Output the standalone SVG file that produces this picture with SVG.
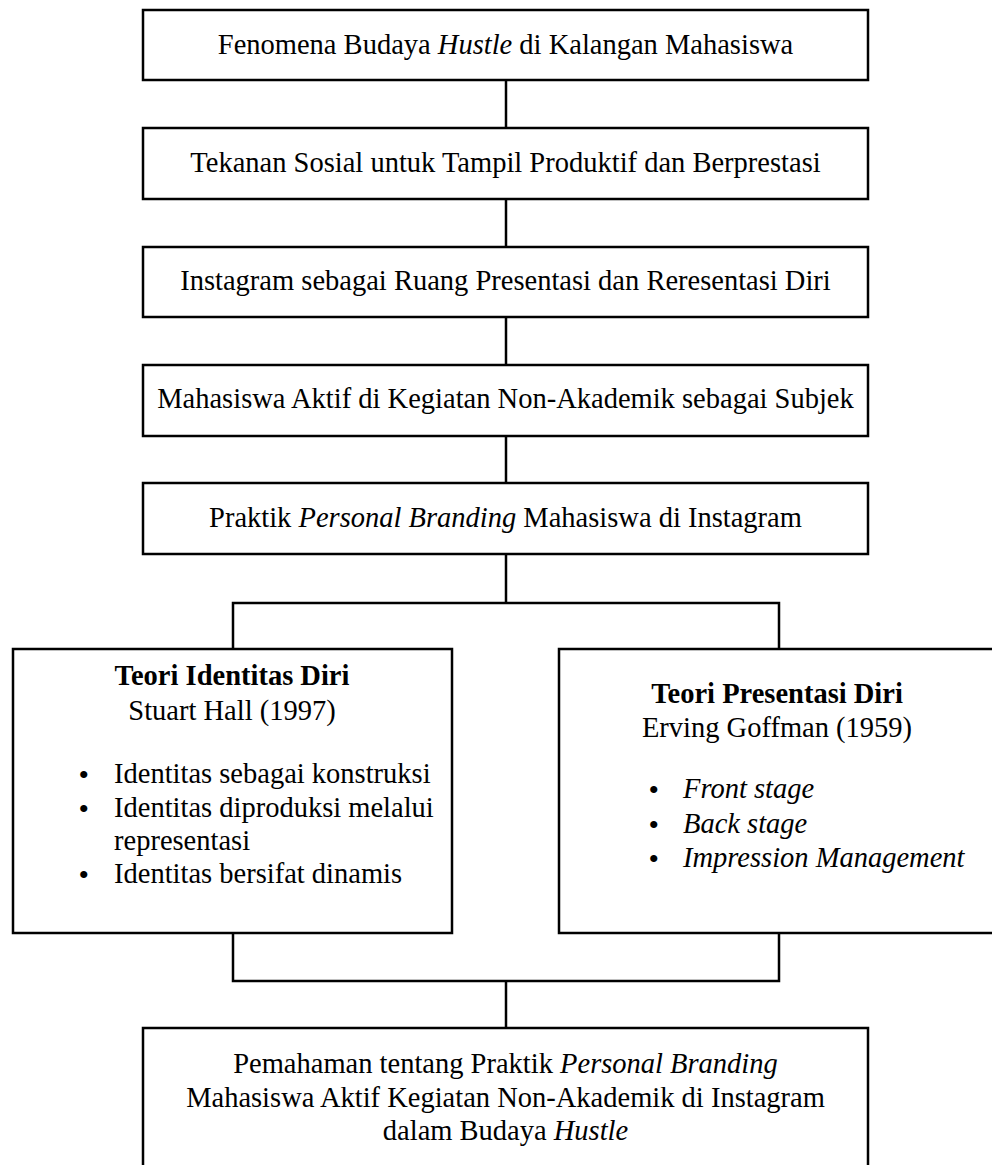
<svg xmlns="http://www.w3.org/2000/svg" width="992" height="1165" viewBox="0 0 992 1165">
<style>
.box{fill:#fff;stroke:#000;stroke-width:2.5}
.ln{fill:none;stroke:#000;stroke-width:2.5}
text{font-family:"Liberation Serif","Times New Roman",serif;font-size:28.5px;fill:#000}
.c{text-anchor:middle}
.b{font-weight:bold}
.i{font-style:italic}
.dot{font-size:30px}
</style>
<rect width="992" height="1165" fill="#fff"/>
<g id="connectors">
<line class="ln" x1="506" y1="80" x2="506" y2="128"/>
<line class="ln" x1="506" y1="199" x2="506" y2="247"/>
<line class="ln" x1="506" y1="317" x2="506" y2="365"/>
<line class="ln" x1="506" y1="436" x2="506" y2="483"/>
<polyline class="ln" points="506,554 506,603"/>
<polyline class="ln" points="233,649 233,603 779,603 779,649"/>
<polyline class="ln" points="233,933 233,981 779,981 779,933"/>
<line class="ln" x1="506" y1="981" x2="506" y2="1028"/>
</g>
<g id="n1"><rect class="box" x="143" y="10" width="725" height="70"/>
<text class="c" x="505.5" y="54">Fenomena Budaya <tspan class="i">Hustle</tspan> di Kalangan Mahasiswa</text></g>
<g id="n2"><rect class="box" x="143" y="128" width="725" height="71"/>
<text class="c" x="505.5" y="172">Tekanan Sosial untuk Tampil Produktif dan Berprestasi</text></g>
<g id="n3"><rect class="box" x="143" y="247" width="725" height="70"/>
<text class="c" x="505.5" y="290">Instagram sebagai Ruang Presentasi dan Reresentasi Diri</text></g>
<g id="n4"><rect class="box" x="143" y="365" width="725" height="71"/>
<text class="c" x="505.5" y="408">Mahasiswa Aktif di Kegiatan Non-Akademik sebagai Subjek</text></g>
<g id="n5"><rect class="box" x="143" y="483" width="725" height="71"/>
<text class="c" x="505.5" y="527">Praktik <tspan class="i">Personal Branding</tspan> Mahasiswa di Instagram</text></g>
<g id="n6"><rect class="box" x="13" y="649" width="439" height="284"/>
<text class="c b" x="232" y="685">Teori Identitas Diri</text>
<text class="c" x="232" y="720">Stuart Hall (1997)</text>
<text class="dot" x="78.5" y="784.5">•</text><text x="114" y="783">Identitas sebagai konstruksi</text>
<text class="dot" x="78.5" y="818.5">•</text><text x="114" y="817">Identitas diproduksi melalui</text>
<text x="114" y="850">representasi</text>
<text class="dot" x="78.5" y="884.5">•</text><text x="114" y="883">Identitas bersifat dinamis</text></g>
<g id="n7"><rect class="box" x="559" y="649" width="440" height="284"/>
<text class="c b" x="777" y="703">Teori Presentasi Diri</text>
<text class="c" x="777" y="737">Erving Goffman (1959)</text>
<text class="dot" x="648.5" y="799.5">•</text><text class="i" x="683" y="798">Front stage</text>
<text class="dot" x="648.5" y="834.5">•</text><text class="i" x="683" y="833">Back stage</text>
<text class="dot" x="648.5" y="868.5">•</text><text class="i" x="683" y="867">Impression Management</text></g>
<g id="n8"><rect class="box" x="143" y="1028" width="725" height="160"/>
<text class="c" x="505.5" y="1073">Pemahaman tentang Praktik <tspan class="i">Personal Branding</tspan></text>
<text class="c" x="505.5" y="1107">Mahasiswa Aktif Kegiatan Non-Akademik di Instagram</text>
<text class="c" x="505.5" y="1140">dalam Budaya <tspan class="i">Hustle</tspan></text></g>
</svg>
